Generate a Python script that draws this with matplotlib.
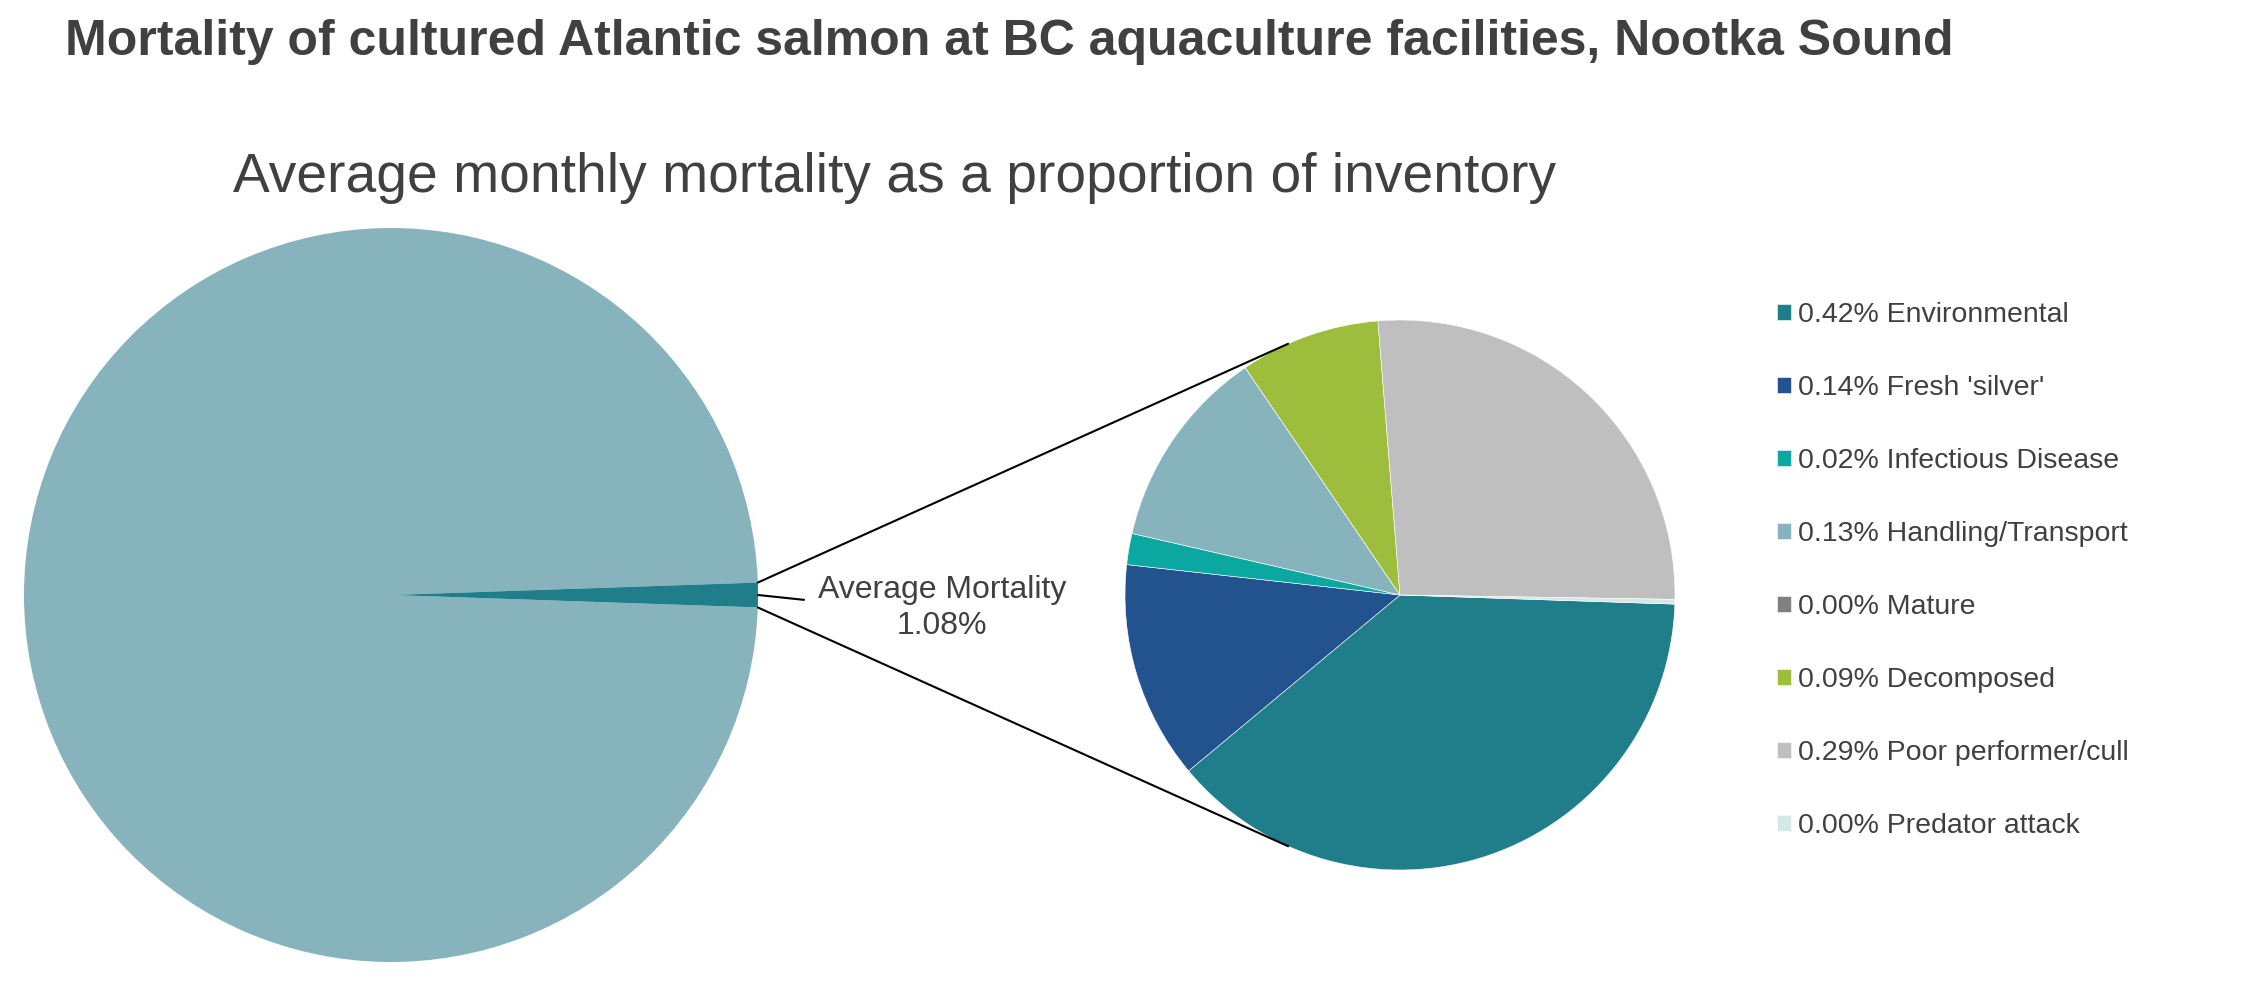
import numpy as np
import matplotlib
matplotlib.use("Agg")
import matplotlib.pyplot as plt
from matplotlib.patches import ConnectionPatch

# data
title = "Mortality of cultured Atlantic salmon at BC aquaculture facilities, Nootka Sound"
subtitle = "Average monthly mortality as a proportion of inventory"
avg_mortality = 1.08  # % of inventory per month
causes = ["Environmental", "Fresh 'silver'", "Infectious Disease", "Handling/Transport",
          "Mature", "Decomposed", "Poor performer/cull", "Predator attack"]
cause_pct = [0.42, 0.14, 0.02, 0.13, 0.0, 0.09, 0.29, 0.003]
cause_colors = ["#1F7E89", "#23538F", "#0AA8A0", "#87B4BC",
                "#808080", "#9DBE3C", "#BFBFBF", "#D5E8E5"]

plt.rcParams['font.family'] = ['Liberation Sans', 'DejaVu Sans']
txt = "#404040"

W, H = 2244, 986
fig = plt.figure(figsize=(W / 100, H / 100), dpi=100)

# axes boxes in pixels (centre x, centre y from top, radius)
def box(cx, cy, r):
    return [(cx - r) / W, (H - cy - r) / H, 2 * r / W, 2 * r / H]

ax1 = fig.add_axes(box(391, 595, 367))
ax2 = fig.add_axes(box(1400, 595, 275))

# left pie: whole inventory vs mortality
half = avg_mortality / 100 * 180
ax1.pie([100 - avg_mortality, avg_mortality], colors=["#87B4BC", "#1F7E89"],
        startangle=half, counterclock=True, radius=1,
        wedgeprops=dict(linewidth=0))

# right pie: breakdown of mortality
wedges, _ = ax2.pie(cause_pct, colors=cause_colors, startangle=-1.9,
                    counterclock=False, radius=1,
                    wedgeprops=dict(linewidth=0.4, edgecolor="white"))

for ax in (ax1, ax2):
    ax.set_xlim(-1, 1)
    ax.set_ylim(-1, 1)
    ax.set_aspect("equal")
    ax.axis("off")

# connector lines between the pies
tang = np.radians(114)
for s in (1, -1):
    a = np.radians(s * half)
    con = ConnectionPatch(xyA=(np.cos(a), np.sin(a)), coordsA=ax1.transData,
                          xyB=(np.cos(tang), s * np.sin(tang)), coordsB=ax2.transData,
                          color="black", lw=1.5)
    fig.add_artist(con)

# label for the mortality slice
ax1.annotate(f"Average Mortality\n{avg_mortality:.2f}%", xy=(1, 0), xycoords="data",
             xytext=(942, H - 608), textcoords="figure pixels",
             ha="center", va="center", fontsize=23, color=txt, linespacing=1.3,
             arrowprops=dict(arrowstyle="-", color="black", lw=1.5,
                             relpos=(0, 0.6), shrinkA=8, shrinkB=0),
             annotation_clip=False)

# legend
labels = [f"{v:.2f}% {n}" for v, n in zip(cause_pct, causes)]
leg = fig.legend(wedges, labels, loc="upper left",
                 bbox_to_anchor=(1777 / W, 1 - 302 / H), frameon=False,
                 fontsize=20.5, labelspacing=1.65, handlelength=0.5, handleheight=0.5,
                 handletextpad=0.25, borderpad=0, borderaxespad=0)
for t in leg.get_texts():
    t.set_color(txt)

fig.text(65 / W, 1 - 55 / H, title, fontsize=36, fontweight="bold", color=txt,
         ha="left", va="baseline")
fig.text(895 / W, 1 - 192 / H, subtitle, fontsize=39.7, color=txt,
         ha="center", va="baseline")

fig.savefig("out.png", dpi=100)
